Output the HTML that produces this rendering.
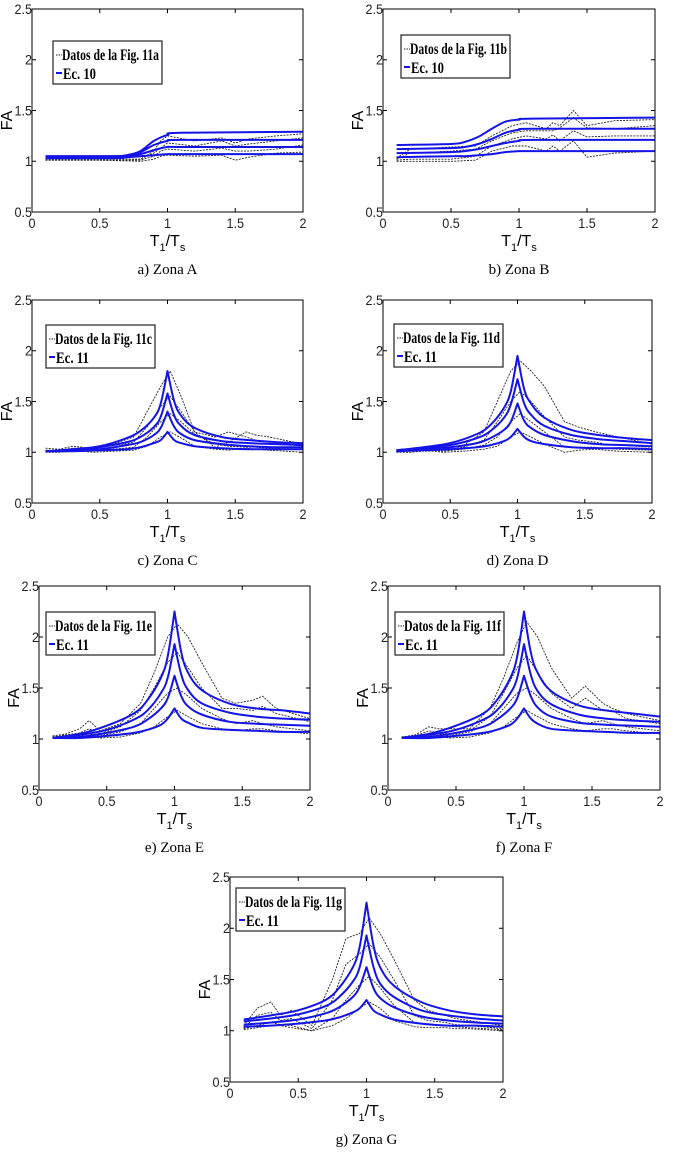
<!DOCTYPE html>
<html><head><meta charset="utf-8"><style>
body{margin:0;background:#fff;}
svg{display:block;}
</style></head><body>
<svg id="fig" width="679" height="1161" viewBox="0 0 679 1161" xmlns="http://www.w3.org/2000/svg"></svg>
<script>
// ---- data ----
const xTicks=[0,0.5,1,1.5,2];
const yTicks=[0.5,1,1.5,2,2.5];
const xTickLabels=["0","0.5","1","1.5","2"];
const yTickLabels=["0.5","1","1.5","2","2.5"];
const peakX=[0.1,0.3,0.5,0.7,0.8,0.9,0.95,1.0,1.05,1.1,1.2,1.4,1.6,1.8,2.0];
const noisyX=[0.1,0.2,0.3,0.37,0.45,0.6,0.75,0.85,0.95,1.02,1.1,1.2,1.35,1.45,1.58,1.65,1.75,2.0];
const aBlueX=[0.1,0.6,0.7,0.8,0.9,1.0,1.1,2.0];
const aBlue1=[1.05,1.05,1.06,1.1,1.2,1.26,1.28,1.29];
const aBlue2=[1.05,1.05,1.06,1.09,1.16,1.2,1.21,1.21];
const aBlue3=[1.04,1.04,1.05,1.07,1.11,1.14,1.14,1.14];
const aBlue4=[1.03,1.03,1.04,1.05,1.06,1.07,1.07,1.07];
const aBlackX=[0.1,0.5,0.8,0.9,0.95,1.0,1.2,1.4,1.5,1.6,1.8,2.0];
const aBlack1=[1.02,1.02,1.02,1.1,1.2,1.25,1.2,1.23,1.18,1.22,1.25,1.27];
const aBlack2=[1.02,1.02,1.02,1.08,1.13,1.18,1.15,1.2,1.15,1.17,1.2,1.23];
const aBlack3=[1.01,1.01,1.01,1.05,1.1,1.12,1.1,1.13,1.1,1.1,1.12,1.16];
const aBlack4=[1.01,1.01,1.0,1.02,1.05,1.06,1.05,1.06,1.01,1.04,1.08,1.09];
const bBlueX=[0.1,0.5,0.6,0.7,0.8,0.9,1.0,1.1,2.0];
const bBlue1=[1.16,1.17,1.19,1.24,1.32,1.39,1.41,1.42,1.43];
const bBlue2=[1.12,1.13,1.14,1.17,1.22,1.28,1.31,1.32,1.32];
const bBlue3=[1.08,1.09,1.1,1.12,1.15,1.18,1.2,1.21,1.21];
const bBlue4=[1.04,1.05,1.05,1.06,1.07,1.09,1.1,1.1,1.1];
const bBlackX=[0.1,0.2,0.5,0.68,0.8,0.95,1.05,1.2,1.25,1.3,1.4,1.5,1.7,2.0];
const bBlack1=[1.03,1.12,1.14,1.15,1.25,1.35,1.38,1.32,1.38,1.35,1.5,1.35,1.4,1.41];
const bBlack2=[1.02,1.08,1.1,1.12,1.2,1.28,1.3,1.3,1.3,1.33,1.43,1.33,1.32,1.35];
const bBlack3=[1.01,1.02,1.02,1.05,1.15,1.22,1.25,1.22,1.26,1.2,1.3,1.24,1.25,1.25];
const bBlack4=[1.0,1.0,1.0,1.01,1.1,1.15,1.15,1.1,1.15,1.1,1.2,1.04,1.08,1.1];
const cBlue1=[1.01,1.03,1.06,1.14,1.21,1.34,1.48,1.8,1.5,1.36,1.24,1.15,1.12,1.1,1.09];
const cBlue2=[1.01,1.02,1.05,1.1,1.15,1.25,1.35,1.58,1.36,1.26,1.17,1.11,1.09,1.08,1.07];
const cBlue3=[1.01,1.02,1.03,1.07,1.1,1.17,1.24,1.4,1.25,1.18,1.12,1.08,1.06,1.05,1.05];
const cBlue4=[1.01,1.01,1.02,1.03,1.05,1.09,1.12,1.2,1.12,1.09,1.06,1.04,1.03,1.03,1.03];
const cBlack1=[1.04,1.03,1.06,1.05,1.03,1.08,1.15,1.4,1.65,1.8,1.55,1.2,1.05,1.1,1.2,1.17,1.15,1.08];
const cBlack2=[1.02,1.02,1.04,1.04,1.02,1.05,1.1,1.25,1.45,1.55,1.4,1.2,1.15,1.2,1.15,1.12,1.1,1.06];
const cBlack3=[1.01,1.01,1.02,1.02,1.01,1.03,1.05,1.15,1.3,1.38,1.3,1.18,1.08,1.06,1.05,1.05,1.04,1.03];
const cBlack4=[1.0,1.0,1.01,1.01,1.0,1.01,1.02,1.06,1.15,1.2,1.14,1.06,1.03,1.02,1.04,1.03,1.02,1.0];
const dBlue1=[1.02,1.05,1.09,1.18,1.27,1.44,1.6,1.95,1.62,1.48,1.34,1.22,1.17,1.14,1.12];
const dBlue2=[1.02,1.04,1.07,1.14,1.21,1.34,1.47,1.72,1.48,1.37,1.26,1.17,1.13,1.11,1.09];
const dBlue3=[1.01,1.03,1.05,1.09,1.14,1.22,1.3,1.48,1.31,1.24,1.17,1.11,1.08,1.07,1.06];
const dBlue4=[1.01,1.02,1.03,1.05,1.07,1.11,1.15,1.23,1.15,1.11,1.08,1.05,1.04,1.04,1.03];
const dBlack1=[1.02,1.02,1.03,1.04,1.03,1.07,1.2,1.5,1.8,1.9,1.8,1.65,1.3,1.25,1.2,1.18,1.15,1.08];
const dBlack2=[1.01,1.02,1.02,1.03,1.02,1.05,1.12,1.3,1.5,1.6,1.5,1.35,1.15,1.12,1.1,1.08,1.07,1.05];
const dBlack3=[1.01,1.01,1.02,1.02,1.01,1.03,1.07,1.15,1.3,1.38,1.3,1.2,1.05,1.05,1.05,1.04,1.03,1.02];
const dBlack4=[1.0,1.0,1.01,1.01,1.0,1.01,1.03,1.06,1.15,1.2,1.15,1.08,1.0,1.02,1.03,1.02,1.01,1.0];
const eBlue1=[1.01,1.05,1.13,1.25,1.38,1.6,1.81,2.25,1.85,1.65,1.48,1.35,1.30,1.28,1.25];
const eBlue2=[1.01,1.04,1.09,1.19,1.28,1.45,1.6,1.93,1.63,1.48,1.35,1.26,1.22,1.2,1.19];
const eBlue3=[1.01,1.02,1.06,1.12,1.19,1.3,1.4,1.62,1.42,1.32,1.24,1.17,1.15,1.14,1.13];
const eBlue4=[1.01,1.01,1.03,1.06,1.09,1.14,1.2,1.3,1.2,1.16,1.11,1.09,1.08,1.07,1.07];
const eBlack1=[1.03,1.05,1.1,1.18,1.08,1.15,1.35,1.65,2.0,2.13,2.0,1.75,1.4,1.35,1.38,1.42,1.3,1.2];
const eBlack2=[1.02,1.04,1.06,1.1,1.05,1.12,1.28,1.5,1.75,1.85,1.7,1.5,1.3,1.3,1.28,1.32,1.25,1.17];
const eBlack3=[1.02,1.03,1.03,1.05,1.03,1.07,1.15,1.3,1.45,1.5,1.42,1.3,1.2,1.15,1.18,1.15,1.12,1.08];
const eBlack4=[1.01,1.02,1.02,1.03,1.01,1.02,1.06,1.12,1.22,1.28,1.22,1.15,1.1,1.08,1.1,1.1,1.08,1.05];
const fBlue1=[1.01,1.05,1.13,1.25,1.38,1.6,1.81,2.25,1.85,1.65,1.47,1.33,1.28,1.25,1.22];
const fBlue2=[1.01,1.04,1.09,1.19,1.28,1.45,1.6,1.93,1.63,1.47,1.34,1.24,1.2,1.18,1.17];
const fBlue3=[1.01,1.02,1.06,1.12,1.19,1.3,1.4,1.62,1.42,1.31,1.22,1.16,1.14,1.13,1.12];
const fBlue4=[1.01,1.01,1.03,1.06,1.09,1.14,1.2,1.3,1.2,1.15,1.1,1.08,1.07,1.06,1.06];
const fBlack1=[1.02,1.04,1.12,1.1,1.1,1.1,1.3,1.6,1.95,2.15,2.0,1.7,1.4,1.52,1.35,1.3,1.25,1.18];
const fBlack2=[1.02,1.03,1.08,1.06,1.05,1.08,1.22,1.45,1.7,1.82,1.65,1.45,1.3,1.4,1.28,1.28,1.2,1.15];
const fBlack3=[1.02,1.03,1.03,1.05,1.03,1.07,1.15,1.3,1.45,1.5,1.42,1.3,1.2,1.15,1.18,1.15,1.12,1.08];
const fBlack4=[1.01,1.02,1.02,1.03,1.01,1.02,1.06,1.12,1.22,1.28,1.22,1.15,1.1,1.08,1.1,1.1,1.08,1.05];
const gBlue1=[1.11,1.15,1.2,1.3,1.42,1.62,1.82,2.25,1.84,1.62,1.44,1.28,1.2,1.16,1.14];
const gBlue2=[1.09,1.12,1.16,1.24,1.33,1.48,1.62,1.93,1.63,1.46,1.33,1.2,1.15,1.12,1.1];
const gBlue3=[1.06,1.08,1.11,1.17,1.23,1.33,1.43,1.62,1.42,1.32,1.23,1.14,1.1,1.08,1.07];
const gBlue4=[1.04,1.05,1.07,1.1,1.13,1.18,1.22,1.3,1.2,1.16,1.11,1.07,1.05,1.05,1.04];
const gBlack1=[1.05,1.22,1.28,1.15,1.2,1.05,1.5,1.9,1.95,2.1,1.95,1.7,1.3,1.2,1.15,1.12,1.1,1.05];
const gBlack2=[1.03,1.15,1.18,1.1,1.12,1.02,1.3,1.65,1.75,1.85,1.72,1.5,1.15,1.1,1.08,1.06,1.05,1.02];
const gBlack3=[1.02,1.05,1.08,1.06,1.05,1.0,1.12,1.3,1.45,1.53,1.42,1.25,1.08,1.06,1.05,1.04,1.03,1.01];
const gBlack4=[1.01,1.03,1.05,1.05,1.03,1.0,1.05,1.12,1.22,1.28,1.22,1.1,1.04,1.03,1.03,1.02,1.02,1.0];

const panels=[
 {id:"a",L:32,R:303,T:9,B:212,cap:"a) Zona A",leg:"Datos de la Fig. 11a",eq:"Ec. 10",lx:21,ly:32,bx:aBlueX,blue:[aBlue1,aBlue2,aBlue3,aBlue4],kx:aBlackX,black:[aBlack1,aBlack2,aBlack3,aBlack4],peak:false},
 {id:"b",L:383,R:655,T:9,B:212,cap:"b) Zona B",leg:"Datos de la Fig. 11b",eq:"Ec. 10",lx:18,ly:26,bx:bBlueX,blue:[bBlue1,bBlue2,bBlue3,bBlue4],kx:bBlackX,black:[bBlack1,bBlack2,bBlack3,bBlack4],peak:false},
 {id:"c",L:32,R:303,T:300,B:503,cap:"c) Zona C",leg:"Datos de la Fig. 11c",eq:"Ec. 11",lx:14,ly:25,bx:peakX,blue:[cBlue1,cBlue2,cBlue3,cBlue4],kx:noisyX,black:[cBlack1,cBlack2,cBlack3,cBlack4],peak:true},
 {id:"d",L:383,R:652,T:300,B:503,cap:"d) Zona D",leg:"Datos de la Fig. 11d",eq:"Ec. 11",lx:11,ly:24,bx:peakX,blue:[dBlue1,dBlue2,dBlue3,dBlue4],kx:noisyX,black:[dBlack1,dBlack2,dBlack3,dBlack4],peak:true},
 {id:"e",L:39,R:310,T:586,B:790,cap:"e) Zona E",leg:"Datos de la Fig. 11e",eq:"Ec. 11",lx:7,ly:26,bx:peakX,blue:[eBlue1,eBlue2,eBlue3,eBlue4],kx:noisyX,black:[eBlack1,eBlack2,eBlack3,eBlack4],peak:true},
 {id:"f",L:388,R:660,T:586,B:790,cap:"f) Zona F",leg:"Datos de la Fig. 11f",eq:"Ec. 11",lx:7,ly:26,bx:peakX,blue:[fBlue1,fBlue2,fBlue3,fBlue4],kx:noisyX,black:[fBlack1,fBlack2,fBlack3,fBlack4],peak:true},
 {id:"g",L:230,R:503,T:877,B:1082,cap:"g) Zona G",leg:"Datos de la Fig. 11g",eq:"Ec. 11",lx:6,ly:11,bx:peakX,blue:[gBlue1,gBlue2,gBlue3,gBlue4],kx:noisyX,black:[gBlack1,gBlack2,gBlack3,gBlack4],peak:true}
];

const NS="http://www.w3.org/2000/svg";
const svg=document.getElementById('fig');
function mk(tag,attrs,parent){const e=document.createElementNS(NS,tag);for(const k in attrs)e.setAttribute(k,attrs[k]);(parent||svg).appendChild(e);return e;}
// smooth path through points (Catmull-Rom), with a sharp corner at the peak index
function smoothPath(P,cusp){
 let d='M'+P[0][0].toFixed(1)+','+P[0][1].toFixed(1);
 for(let i=0;i<P.length-1;i++){
  const p0=(i===0||i===cusp)?P[i]:P[i-1];
  const p1=P[i],p2=P[i+1];
  const p3=(i+2>=P.length||i+1===cusp)?P[i+1]:P[i+2];
  const c1=[p1[0]+(p2[0]-p0[0])/6,p1[1]+(p2[1]-p0[1])/6];
  const c2=[p2[0]-(p3[0]-p1[0])/6,p2[1]-(p3[1]-p1[1])/6];
  d+=' C'+c1[0].toFixed(1)+','+c1[1].toFixed(1)+' '+c2[0].toFixed(1)+','+c2[1].toFixed(1)+' '+p2[0].toFixed(1)+','+p2[1].toFixed(1);
 }
 return d;
}

panels.forEach(p=>{
 const g=mk('g',{});
 
 
 const sx=v=>p.L+(v-0)/(2-0)*(p.R-p.L);
 const sy=v=>p.B-(v-0.5)/(2.5-0.5)*(p.B-p.T);
 const clip=mk('clipPath',{id:'clip'+p.id},g);
 mk('rect',{x:p.L,y:p.T,width:p.R-p.L,height:p.B-p.T},clip);
 p.black.forEach((arr,i)=>{
  const pts=arr.map((v,j)=>sx(p.kx[j]).toFixed(1)+','+sy(v).toFixed(1)).join(' ');
  const l=mk('polyline',{points:pts,fill:'none',stroke:'#222','stroke-width':0.9,'stroke-dasharray':'2,1.2','clip-path':'url(#clip'+p.id+')'},g);
  
  
 });
 p.blue.forEach((arr,i)=>{
  const P=arr.map((v,j)=>[sx(p.bx[j]),sy(v)]);
  let cusp=-1;
  if(p.peak){let m=0;arr.forEach((v,j)=>{if(v>arr[m])m=j;});cusp=m;}
  const l=mk('path',{d:smoothPath(P,cusp),fill:'none',stroke:'#1414e6','stroke-width':2,'stroke-linejoin':'round','clip-path':'url(#clip'+p.id+')'},g);
  
  
 });
 const box=mk('rect',{x:p.L,y:p.T,width:p.R-p.L,height:p.B-p.T,fill:'none',stroke:'#000','stroke-width':1},g);
 
 
 xTicks.forEach((t,i)=>{
  const x=sx(t);
  mk('line',{x1:x,y1:p.B,x2:x,y2:p.B-4,stroke:'#000'},g);
  mk('line',{x1:x,y1:p.T,x2:x,y2:p.T+4,stroke:'#000'},g);
  const tx=mk('text',{x:x,y:p.B+16,'font-size':14,'font-family':'Liberation Sans, sans-serif','text-anchor':'middle',fill:'#222',transform:`translate(${x*0.1},0) scale(0.9,1)`},g);
  tx.textContent=xTickLabels[i];
  
  
 });
 yTicks.forEach((t,i)=>{
  const y=sy(t);
  mk('line',{x1:p.L,y1:y,x2:p.L+4,y2:y,stroke:'#000'},g);
  mk('line',{x1:p.R,y1:y,x2:p.R-4,y2:y,stroke:'#000'},g);
  const ty=mk('text',{x:p.L,y:y+5,'font-size':14,'font-family':'Liberation Sans, sans-serif','text-anchor':'end',fill:'#222',transform:`translate(${p.L*0.1},0) scale(0.9,1)`},g);
  ty.textContent=yTickLabels[i];
  
  
 });
 const yt=mk('text',{x:0,y:0,'font-size':16,'font-family':'Liberation Sans, sans-serif','text-anchor':'middle',transform:`translate(${p.L-20},${(p.T+p.B)/2+10}) rotate(-90)`},g);
 yt.textContent='FA';
 
 
 const xt=mk('text',{x:(p.L+p.R)/2,y:p.B+34,'font-size':16,'font-family':'Liberation Sans, sans-serif','text-anchor':'middle'},g);
 xt.innerHTML='T<tspan font-size="11" dy="5">1</tspan><tspan dy="-5">/T</tspan><tspan font-size="11" dy="5">s</tspan>';
 
 
 const cap=mk('text',{x:(p.L+p.R)/2,y:p.B+62,'font-size':15,'font-family':'Liberation Serif, serif','text-anchor':'middle'},g);
 cap.textContent=p.cap;
 
 
 const lx=p.L+p.lx, ly=p.T+p.ly;
 const lg=mk('g',{},g);
 
 
 mk('rect',{x:lx,y:ly,width:109,height:43,fill:'#fff',stroke:'#222','stroke-width':1.2},lg);
 mk('line',{x1:lx+3,y1:ly+14,x2:lx+9,y2:ly+14,stroke:'#222','stroke-dasharray':'1.5,1'},lg);
 const t1=mk('text',{x:lx+9,y:ly+19,'font-size':16,'font-weight':'bold','font-family':'Liberation Serif, serif',textLength:97,lengthAdjust:'spacingAndGlyphs'},lg);
 t1.textContent=p.leg;
 
 
 mk('line',{x1:lx+3,y1:ly+32,x2:lx+9,y2:ly+32,stroke:'#1414e6','stroke-width':2},lg);
 const t2=mk('text',{x:lx+10,y:ly+38,'font-size':16,'font-weight':'bold','font-family':'Liberation Serif, serif',textLength:33,lengthAdjust:'spacingAndGlyphs'},lg);
 t2.textContent=p.eq;
 
 
});
</script>
</body></html>
